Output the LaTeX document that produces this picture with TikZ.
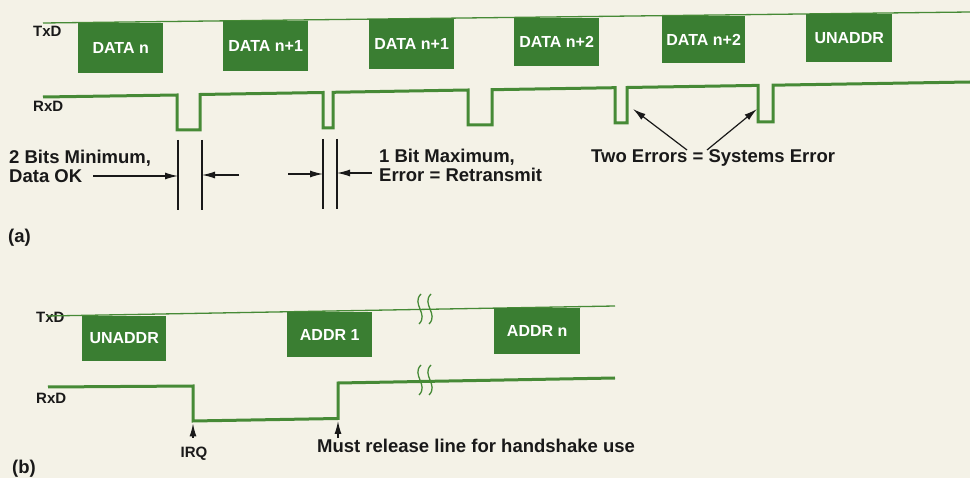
\documentclass[tikz,border=0pt]{standalone}
\usepackage{fontspec}
\setmainfont{Liberation Sans}
\usetikzlibrary{arrows.meta}
\definecolor{paper}{RGB}{244,242,231}
\definecolor{sigbox}{RGB}{58,126,50}
\definecolor{sigline}{RGB}{70,138,54}
\definecolor{ink}{RGB}{25,25,25}
\begin{document}
\begin{tikzpicture}[x=1pt,y=-1pt,
  tline/.style={sigline, line width=1.3pt},
  rline/.style={sigline, line width=3pt, line join=miter},
  brk/.style={sigline, line width=1.3pt},
  databox/.style={fill=sigbox, anchor=north west, inner sep=0pt, text=white,
    font=\fontsize{16}{16}\selectfont\bfseries},
  siglabel/.style={anchor=base west, inner sep=0pt, text=ink,
    font=\fontsize{15}{15}\selectfont\bfseries},
  note/.style={anchor=base west, inner sep=0pt, text=ink,
    font=\fontsize{18.5}{18.5}\selectfont\bfseries},
  marker/.style={ink, line width=1.2pt},
  pointer/.style={ink, line width=1.2pt, -{Latex[length=13pt,width=7pt]}},
]
\fill[paper] (0,0) rectangle (970,478);
\useasboundingbox (0,0) rectangle (970,478);

% ---------- (a) data transfer with error detection ----------
\node[siglabel] (txa) at (33,36.5) {TxD};
\node[siglabel] (rxa) at (33,112) {RxD};
\draw[tline] (43,23) -- (970,12);

\node[databox, minimum width=85pt, minimum height=50.4pt] (a1) at (78,22.6) {DATA n};
\node[databox, minimum width=85pt, minimum height=50pt]   (a2) at (223,20.9) {DATA n+1};
\node[databox, minimum width=85pt, minimum height=49.8pt] (a3) at (369,19.1) {DATA n+1};
\node[databox, minimum width=85pt, minimum height=48.6pt] (a4) at (514,17.4) {DATA n+2};
\node[databox, minimum width=83pt, minimum height=47.4pt] (a5) at (662,15.6) {DATA n+2};
\node[databox, minimum width=86pt, minimum height=48pt]   (a6) at (806,13.9) {UNADDR};

\draw[rline] (43,97) -- (177,95) -- (177,130) -- (200,130) -- (200,94.5)
  -- (323,92.5) -- (323,128) -- (333,128) -- (333,92.3)
  -- (468,90) -- (468,125) -- (492,125) -- (492,89.7)
  -- (615,87.7) -- (615,123) -- (627,123) -- (627,87.5)
  -- (758,85.4) -- (758,122) -- (773,122) -- (773,85.2) -- (970,82);

% bit-width markers
\coordinate (m1t) at (178,140); \coordinate (m1b) at (178,210);
\coordinate (m2t) at (202,140); \coordinate (m2b) at (202,210);
\coordinate (m3t) at (323,139); \coordinate (m3b) at (323,209);
\coordinate (m4t) at (337,139); \coordinate (m4b) at (337,209);
\draw[marker] (m1t) -- (m1b);
\draw[marker] (m2t) -- (m2b);
\draw[marker] (m3t) -- (m3b);
\draw[marker] (m4t) -- (m4b);

\node[note] (min1) at (9,163.5) {2 Bits Minimum,};
\node[note] (min2) at (9,182.5) {Data OK};
\node[note] (max1) at (379,163) {1 Bit Maximum,};
\node[note] (max2) at (379,182) {Error = Retransmit};

\coordinate (p1) at (93,176);
\coordinate (p2) at (239,175);
\coordinate (p3) at (288,174);
\coordinate (p4) at (372,173);
\draw[pointer] (p1) -- (p1 -| m1t);
\draw[pointer] (p2) -- (p2 -| m2t);
\draw[pointer] (p3) -- (p3 -| m3t);
\draw[pointer] (p4) -- (p4 -| m4t);

\node[note] (twoerr) at (591,163) {Two Errors = Systems Error};
\coordinate (e1tail) at (687,150); \coordinate (e1) at (633,109);
\coordinate (e2tail) at (707,150); \coordinate (e2) at (757,109);
\draw[pointer] (e1tail) -- (e1);
\draw[pointer] (e2tail) -- (e2);

\node[note] (capa) at (8,243) {(a)};

% ---------- (b) addressing and handshake ----------
\node[siglabel] (txb) at (36,322.5) {TxD};
\node[siglabel] (rxb) at (36,403.5) {RxD};
\draw[tline] (47,316) -- (615,306);

\node[databox, minimum width=84pt, minimum height=45.6pt] (b1) at (82,315.4) {UNADDR};
\node[databox, minimum width=85pt, minimum height=45.2pt] (b2) at (287,311.8) {ADDR 1};
\node[databox, minimum width=86pt, minimum height=46pt]   (b3) at (494,308) {ADDR n};

\draw[rline] (48,387) -- (193,386) -- (193,421) -- (338,418.5) -- (338,383) -- (615,378);

% break symbols on both lines
\foreach \bx in {420,430} {
  \draw[brk] (\bx+1,294) .. controls (\bx-9,304) and (\bx+9,314) .. (\bx-1,324);
  \draw[brk] (\bx+1,365) .. controls (\bx-9,375) and (\bx+9,385) .. (\bx-1,395);
}

\coordinate (irqtail) at (193,438); \coordinate (irqtip) at (193,423.5);
\coordinate (reltail) at (338,438); \coordinate (reltip) at (338,421);
\draw[pointer] (irqtail) -- (irqtip);
\draw[pointer] (reltail) -- (reltip);
\node[siglabel, anchor=base] (irq) at (194,457) {IRQ};
\node[note] (release) at (317,453) {Must release line for handshake use};

\node[note] (capb) at (12,474) {(b)};
\end{tikzpicture}
\end{document}
